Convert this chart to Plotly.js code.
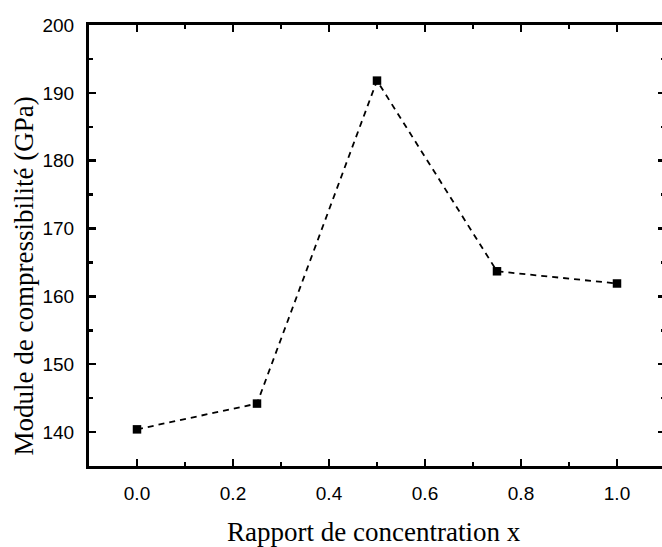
<!DOCTYPE html>
<html>
<head>
<meta charset="utf-8">
<script src="https://cdn.plot.ly/plotly-3.0.1.min.js"></script>
<style>
  html, body { margin: 0; padding: 0; overflow: hidden; background: #fff; }
  #chart { width: 672px; height: 547px; }
</style>
</head>
<body>
<div id="chart"></div>
<script>
// Concentration ratio x and bulk modulus values (GPa)
const ratios = [0.0, 0.25, 0.5, 0.75, 1.0];
const bulkModulus = [140.4, 144.2, 191.8, 163.7, 161.9];

const xTickVals = [0.0, 0.2, 0.4, 0.6, 0.8, 1.0];
const xTickText = ['0.0', '0.2', '0.4', '0.6', '0.8', '1.0'];
const yTickVals = [140, 150, 160, 170, 180, 190, 200];

const trace = {
  x: ratios,
  y: bulkModulus,
  type: 'scatter',
  mode: 'lines+markers',
  line: { color: '#000', width: 1.8, dash: '6px,5px' },
  marker: { symbol: 'square', size: 8.5, color: '#000' },
  cliponaxis: false,
  hoverinfo: 'skip'
};

const axisCommon = {
  showgrid: false,
  zeroline: false,
  showline: true,
  linecolor: '#000',
  linewidth: 3,
  mirror: 'ticks',
  ticks: 'inside',
  ticklen: 7,
  tickwidth: 2.5,
  tickcolor: '#000',
  tickfont: { family: 'Liberation Sans, Arial, sans-serif', size: 19, color: '#000' },
  ticklabelstandoff: 8
};

const layout = {
  width: 672,
  height: 547,
  margin: { l: 89, r: 7, t: 25, b: 81 },
  paper_bgcolor: '#fff',
  plot_bgcolor: '#fff',
  showlegend: false,
  xaxis: Object.assign({}, axisCommon, {
    range: [-0.1, 1.1],
    tickvals: xTickVals,
    ticktext: xTickText,
    minor: { dtick: 0.1, tick0: 0, ticks: 'inside', ticklen: 4, tickwidth: 2.5, tickcolor: '#000' }
  }),
  yaxis: Object.assign({}, axisCommon, {
    range: [135, 200],
    tickvals: yTickVals,
    minor: { dtick: 5, tick0: 135, ticks: 'inside', ticklen: 4, tickwidth: 2.5, tickcolor: '#000' }
  }),
  annotations: [
    {
      text: 'Module de compressibilité (GPa)',
      xref: 'paper', yref: 'paper',
      x: -0.1128, y: 0.43,
      xanchor: 'center', yanchor: 'middle',
      textangle: -90,
      showarrow: false,
      font: { family: 'Liberation Serif, Times New Roman, serif', size: 27, color: '#000' }
    },
    {
      text: 'Rapport de concentration x',
      xref: 'paper', yref: 'paper',
      x: 0.4948, y: -0.1497,
      xanchor: 'center', yanchor: 'middle',
      showarrow: false,
      font: { family: 'Liberation Serif, Times New Roman, serif', size: 27, color: '#000' }
    }
  ]
};

Plotly.newPlot('chart', [trace], layout, { displayModeBar: false, staticPlot: true });
</script>
</body>
</html>
